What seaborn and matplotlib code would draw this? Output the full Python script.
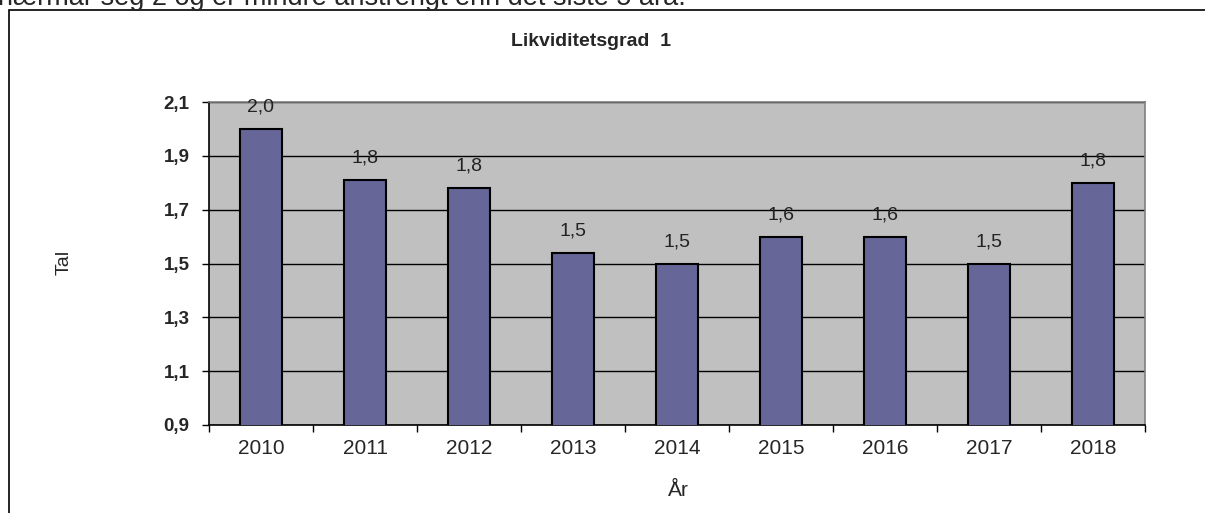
import matplotlib
matplotlib.use("Agg")
import matplotlib.pyplot as plt
import seaborn as sns
import pandas as pd
from matplotlib.patches import Rectangle
from matplotlib.ticker import FixedLocator

years = ["2010", "2011", "2012", "2013", "2014", "2015", "2016", "2017", "2018"]
values = [2.0, 1.81, 1.78, 1.54, 1.50, 1.60, 1.60, 1.50, 1.80]
yticks = [0.9, 1.1, 1.3, 1.5, 1.7, 1.9, 2.1]

sns.set_style("white")
plt.rcParams["font.family"] = ["Liberation Sans", "DejaVu Sans"]

df = pd.DataFrame({"year": years, "value": values})

fig = plt.figure(figsize=(12.05, 5.13), dpi=100)
ax = fig.add_axes([209 / 1205, 1 - 425 / 513, (1145 - 209) / 1205, (425 - 102) / 513])
ax.set_facecolor("#c0c0c0")

sns.barplot(data=df, x="year", y="value", color="#666699", width=0.4,
            edgecolor="black", linewidth=1.5, saturation=1, ax=ax, zorder=3)

ax.set_ylim(0.9, 2.1)
ax.set_xlim(-0.5, len(years) - 0.5)
ax.set_yticks(yticks)
ax.set_yticklabels([f"{t:.1f}".replace(".", ",") for t in yticks],
                   fontsize=13.5, fontweight="bold")
ax.yaxis.grid(True, color="black", linewidth=1.0, zorder=1)
ax.set_axisbelow(True)
ax.tick_params(axis="y", length=5, width=1, direction="out", color="black", pad=9, left=True)
ax.tick_params(axis="x", which="major", length=0, labelsize=15, pad=10)
ax.xaxis.set_minor_locator(FixedLocator([i - 0.5 for i in range(len(years) + 1)]))
ax.tick_params(axis="x", which="minor", length=5, width=1, direction="out",
               color="black", bottom=True)

for sp in ["left", "bottom"]:
    ax.spines[sp].set_color("black")
    ax.spines[sp].set_linewidth(1.2)
for sp in ["top", "right"]:
    ax.spines[sp].set_color("#808080")
    ax.spines[sp].set_linewidth(1.2)

for i, v in enumerate(values):
    ax.annotate(f"{v:.1f}".replace(".", ","), (i, v), xytext=(0, 9.5),
                textcoords="offset points", ha="center", va="bottom",
                fontsize=14, color="#222222")

ax.set_xlabel("")
ax.set_ylabel("")
fig.text(64 / 1205, 1 - 262 / 513, "Tal", rotation=90, ha="center", va="center", fontsize=14)
fig.text(678 / 1205, 1 - 490 / 513, "År", ha="center", va="center", fontsize=15)
fig.text(591 / 1205, 1 - 41 / 513, "Likviditetsgrad  1", ha="center", va="center",
         fontsize=14, fontweight="bold")

# outer chart frame
fig.patches.append(Rectangle((9 / 1205, -0.1), 1.2, 1.1 - 10 / 513,
                             transform=fig.transFigure, fill=False,
                             edgecolor="black", linewidth=1.2))

# text from the page above, cut off at the top
fig.text(-0.002, 1 - 5 / 513, "nærmar seg 2 og er mindre anstrengt enn det siste 5 åra.",
         ha="left", va="baseline", fontsize=19.5)

fig.savefig("out.png", dpi=100)
